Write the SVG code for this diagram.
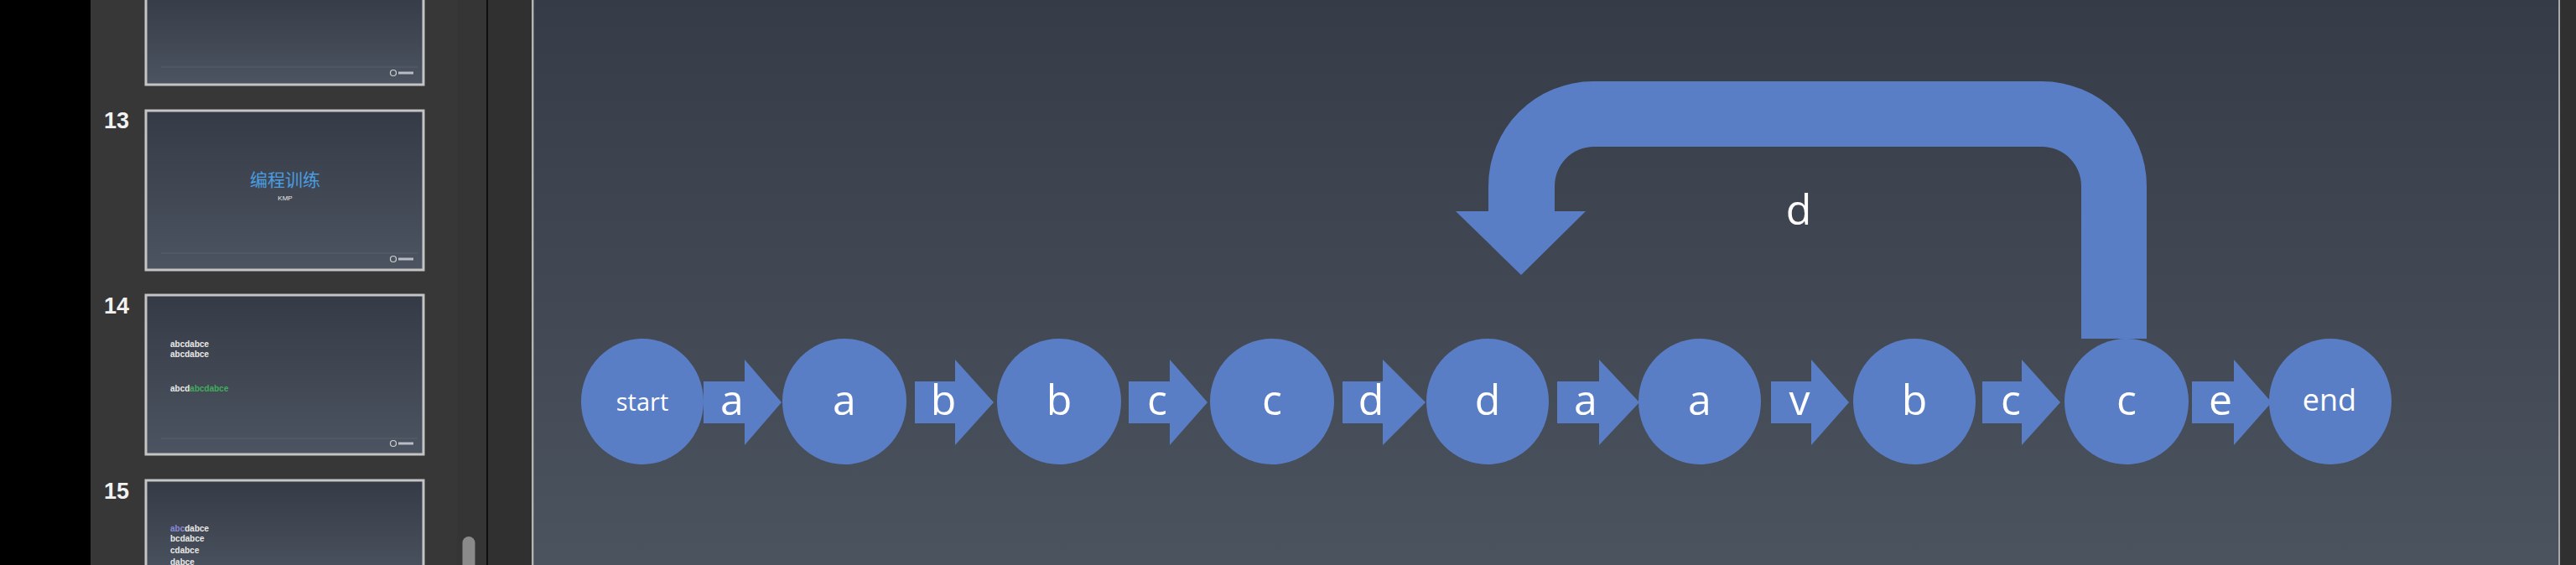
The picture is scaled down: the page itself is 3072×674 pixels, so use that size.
<svg xmlns="http://www.w3.org/2000/svg" width="3072" height="674" viewBox="0 0 3072 674">
  <defs>
    <linearGradient id="slideBg" x1="0" y1="0" x2="0" y2="1">
      <stop offset="0" stop-color="#363c47"/>
      <stop offset="1" stop-color="#4b535f"/>
    </linearGradient>
    <linearGradient id="thumbBg" x1="0" y1="0" x2="0" y2="1">
      <stop offset="0" stop-color="#353b46"/>
      <stop offset="1" stop-color="#4c5461"/>
    </linearGradient>
    <style>
      .node { fill: #5a7ec6; }
      .conn { fill: #5a7ec6; }
      .lbl { font-family: "Open Sans", "Noto Sans", "Liberation Sans", sans-serif; fill: #ffffff; text-anchor: middle; font-size: 50px; }
      .thumb { fill: url(#thumbBg); stroke: #c4c4c4; stroke-width: 3; }
      .num { font-family: "Liberation Sans", Arial, sans-serif; font-weight: bold; font-size: 27px; fill: #f2f2f2; }
      .small { font-family: "Liberation Sans", Arial, sans-serif; font-weight: bold; font-size: 10px; fill: #e8e8e8; }
      .foot { stroke: #56606c; stroke-width: 1; }
      .logo { fill: none; stroke: #d0d0d0; stroke-width: 1.2; }
      .logobar { fill: #b8bcc4; }
    </style>
  </defs>

  <!-- app chrome -->
  <rect x="0" y="0" width="3072" height="674" fill="#333333"/>
  <rect x="0" y="0" width="108" height="674" fill="#000000"/>
  <rect x="108" y="0" width="437" height="674" fill="#373737"/>
  <rect x="545" y="0" width="37" height="674" fill="#353535"/>
  <rect x="580" y="0" width="2" height="674" fill="#0e0e0e"/>
  <rect x="582" y="0" width="52" height="674" fill="#303030"/>
  <rect x="634" y="0" width="2.5" height="674" fill="#b4b4b4"/>
  <rect x="637" y="0" width="2414" height="674" fill="url(#slideBg)"/>
  <rect x="3051" y="0" width="2" height="674" fill="#a8a8a8"/>
  <rect x="3053" y="0" width="19" height="674" fill="#303030"/>

  <!-- thumbnails -->
  <g id="thumb12">
    <rect class="thumb" x="174" y="-10" width="331" height="111"/>
    <line class="foot" x1="192" y1="80" x2="498" y2="80"/>
    <circle class="logo" cx="469" cy="87" r="3.5"/>
    <rect class="logobar" x="475" y="85.5" width="18" height="3"/>
  </g>
  <g id="thumb13">
    <text class="num" x="124" y="153">13</text>
    <rect class="thumb" x="174" y="132" width="331" height="190"/>
    <text x="340" y="222" text-anchor="middle" font-family="'Noto Sans CJK SC', sans-serif" font-size="21" fill="#4a9de0">编程训练</text>
    <text x="340" y="239" text-anchor="middle" font-family="'Liberation Sans', Arial, sans-serif" font-size="8" fill="#e8e8e8">KMP</text>
    <line class="foot" x1="192" y1="302" x2="498" y2="302"/>
    <circle class="logo" cx="469" cy="309" r="3.5"/>
    <rect class="logobar" x="475" y="307.5" width="18" height="3"/>
  </g>
  <g id="thumb14">
    <text class="num" x="124" y="374">14</text>
    <rect class="thumb" x="174" y="352" width="331" height="190"/>
    <text class="small" x="203" y="414">abcdabce</text>
    <text class="small" x="203" y="425.5">abcdabce</text>
    <text class="small" x="203" y="467">abcd<tspan fill="#3fae5a">abcdabce</tspan></text>
    <line class="foot" x1="192" y1="523" x2="498" y2="523"/>
    <circle class="logo" cx="469" cy="529" r="3.5"/>
    <rect class="logobar" x="475" y="527.5" width="18" height="3"/>
  </g>
  <g id="thumb15">
    <text class="num" x="124" y="595">15</text>
    <rect class="thumb" x="174" y="573" width="331" height="120"/>
    <text class="small" x="203" y="634"><tspan fill="#8a88d6">abc</tspan>dabce</text>
    <text class="small" x="203" y="646">bcdabce</text>
    <text class="small" x="203" y="659.5">cdabce</text>
    <text class="small" x="203" y="673.5">dabce</text>
  </g>
  <rect x="551.5" y="640" width="15" height="50" rx="7.5" fill="#8a8a8a"/>

  <!-- connectors -->
  <g id="connectors">
    <path id="loop" class="conn" d="M2482,404 L2482,222 A47,47 0 0 0 2435,175 L1901,175 A47,47 0 0 0 1854,222 L1854,252 L1891,252 L1814,328 L1736,252 L1775,252 L1775,222 A125,125 0 0 1 1900,97 L2435,97 A125,125 0 0 1 2560,222 L2560,404 Z"/>
    <text class="lbl" x="2145" y="268">d</text>

    <polygon class="conn" points="839,455 888,455 888,429 932,480 888,531 888,505 839,505"/>
    <text class="lbl" x="873" y="495">a</text>
    <polygon class="conn" points="1091,455 1139,455 1139,429 1185,480 1139,531 1139,505 1091,505"/>
    <text class="lbl" x="1125" y="495">b</text>
    <polygon class="conn" points="1346,455 1395,455 1395,429 1440,480 1395,531 1395,505 1346,505"/>
    <text class="lbl" x="1380" y="495">c</text>
    <polygon class="conn" points="1601,455 1649,455 1649,429 1700,480 1649,531 1649,505 1601,505"/>
    <text class="lbl" x="1635" y="495">d</text>
    <polygon class="conn" points="1857,455 1907,455 1907,429 1955,480 1907,531 1907,505 1857,505"/>
    <text class="lbl" x="1891" y="495">a</text>
    <polygon class="conn" points="2112,455 2160,455 2160,429 2205,480 2160,531 2160,505 2112,505"/>
    <text class="lbl" x="2146" y="495">v</text>
    <polygon class="conn" points="2364,455 2411,455 2411,429 2457,480 2411,531 2411,505 2364,505"/>
    <text class="lbl" x="2398" y="495">c</text>
    <polygon class="conn" points="2614,455 2664,455 2664,429 2709,480 2664,531 2664,505 2614,505"/>
    <text class="lbl" x="2648" y="495">e</text>
  </g>

  <!-- nodes -->
  <g id="n-start"><ellipse class="node" cx="766" cy="479" rx="73" ry="75"/><text class="lbl" x="766" y="490" style="font-size:29px">start</text></g>
  <g id="n-a1"><ellipse class="node" cx="1007" cy="479" rx="74" ry="75"/><text class="lbl" x="1007" y="495">a</text></g>
  <g id="n-b1"><ellipse class="node" cx="1263" cy="479" rx="74" ry="75"/><text class="lbl" x="1263" y="495">b</text></g>
  <g id="n-c1"><ellipse class="node" cx="1517" cy="479" rx="74" ry="75"/><text class="lbl" x="1517" y="495">c</text></g>
  <g id="n-d"><ellipse class="node" cx="1774" cy="479" rx="73" ry="75"/><text class="lbl" x="1774" y="495">d</text></g>
  <g id="n-a2"><ellipse class="node" cx="2027" cy="479" rx="73" ry="75"/><text class="lbl" x="2027" y="495">a</text></g>
  <g id="n-b2"><ellipse class="node" cx="2283" cy="479" rx="73" ry="75"/><text class="lbl" x="2283" y="495">b</text></g>
  <g id="n-c2"><ellipse class="node" cx="2536" cy="479" rx="74" ry="75"/><text class="lbl" x="2536" y="495">c</text></g>
  <g id="n-end"><ellipse class="node" cx="2779" cy="479" rx="73" ry="75"/><text class="lbl" x="2778" y="490" style="font-size:36px">end</text></g>
</svg>
